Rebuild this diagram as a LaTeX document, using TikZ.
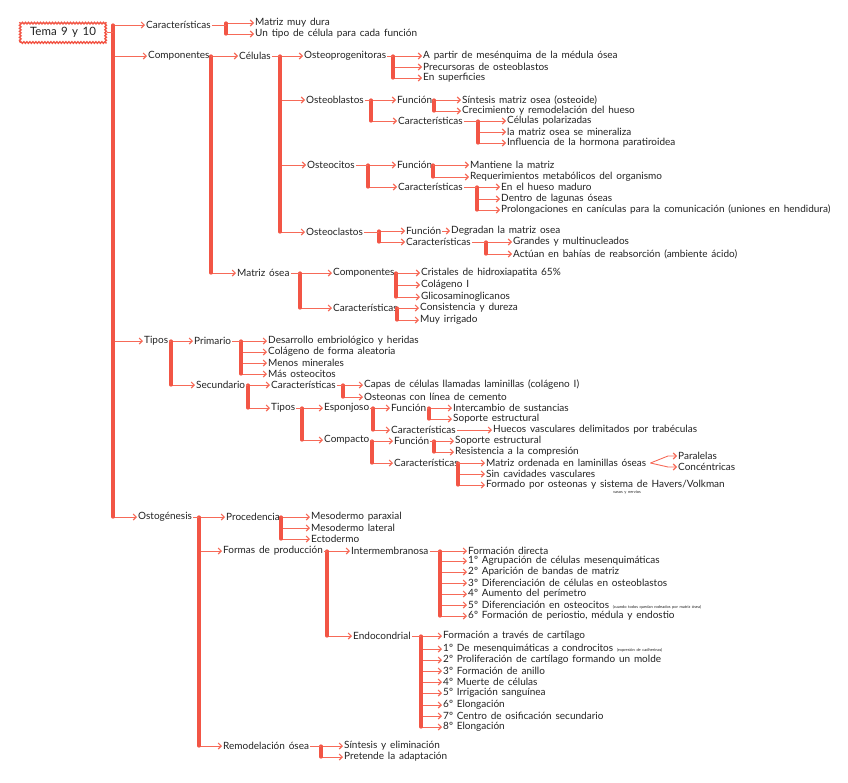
\documentclass[tikz,border=0pt]{standalone}
\usepackage{fontspec}
\setmainfont{Lato}[WordSpace=1.5]
\usetikzlibrary{arrows.meta,decorations.pathmorphing}
\definecolor{mred}{HTML}{F25545}
\definecolor{mredl}{HTML}{F66A58}
\definecolor{ink}{HTML}{222222}
\tikzset{
 t/.style={anchor=west, inner sep=1pt, text=ink, font=\fontsize{10}{12}\selectfont},
 tiny/.style={inner sep=0pt, text=ink, font=\fontsize{4}{5}\selectfont},
 arr/.style={draw=mredl, line width=0.9pt, -{Straight Barb[length=3pt,width=6pt,line width=1.1pt]}},
 bar/.style={draw=mred, line width=3.2pt, line cap=round},
 stub/.style={draw=mredl, line width=0.9pt},
 rootbox/.style={draw=mred, line width=1.4pt, minimum width=86pt, minimum height=21pt,
   decorate, decoration={snake,amplitude=0.8pt,segment length=3pt},
   text=ink, font=\fontsize{11.5}{13}\selectfont}
}
\newcommand\fan[3]{%
 \coordinate (bx) at (#2,0);
 \foreach \c [count=\i] in {#3}{%
   \ifnum\i=1 \xdef\fanfirst{\c}\fi
   \xdef\fanlast{\c}%
   \draw[arr] (bx |- \c.west) -- (\c.west);
 }%
 \draw[bar] (bx |- \fanfirst.west) -- (bx |- \fanlast.west);
 \draw[stub] (#1.east) -- (bx |- #1.east);
}
\newcommand\sm[1]{{\fontsize{4}{5}\selectfont #1}}
\begin{document}
\begin{tikzpicture}[x=1pt,y=-1pt]
\useasboundingbox (0,0) rectangle (848,782);
\node[rootbox] (tema) at (63,32) {Tema 9 y 10};
% level 1
\node[t] (car) at (145,25) {Características};
\node[t] (comp) at (147,56) {Componentes};
\node[t] (tipos) at (143,341) {Tipos};
\node[t] (osto) at (137,517) {Ostogénesis};
\fan{tema}{113}{car,comp,tipos,osto}
% caracteristicas
\node[t] (car1) at (254,23) {Matriz muy dura};
\node[t] (car2) at (254,34) {Un tipo de célula para cada función};
\fan{car}{226}{car1,car2}
% componentes
\node[t] (cel) at (238,56) {Células};
\node[t] (mat) at (236,273) {Matriz ósea};
\fan{comp}{211}{cel,mat}
\node[t] (op) at (303,56) {Osteoprogenitoras};
\node[t] (ob) at (305,100) {Osteoblastos};
\node[t] (oc) at (306,165) {Osteocitos};
\node[t] (ocl) at (305,232) {Osteoclastos};
\fan{cel}{280}{op,ob,oc,ocl}
\node[t] (op1) at (422,56) {A partir de mesénquima de la médula ósea};
\node[t] (op2) at (422,67) {Precursoras de osteoblastos};
\node[t] (op3) at (422,78) {En superficies};
\fan{op}{393}{op1,op2,op3}
\node[t] (obf) at (396,100) {Función};
\node[t] (obc) at (397,121) {Características};
\fan{ob}{371}{obf,obc}
\node[t] (obf1) at (461,100) {Síntesis matriz osea (osteoide)};
\node[t] (obf2) at (461,111) {Crecimiento y remodelación del hueso};
\fan{obf}{434}{obf1,obf2}
\node[t] (obc1) at (506,121) {Células polarizadas};
\node[t] (obc2) at (506,132) {la matriz osea se mineraliza};
\node[t] (obc3) at (506,143) {Influencia de la hormona paratiroidea};
\fan{obc}{478}{obc1,obc2,obc3}
\node[t] (ocf) at (396,165) {Función};
\node[t] (occ) at (397,187) {Características};
\fan{oc}{368}{ocf,occ}
\node[t] (ocf1) at (469,165) {Mantiene la matriz};
\node[t] (ocf2) at (469,177) {Requerimientos metabólicos del organismo};
\fan{ocf}{433}{ocf1,ocf2}
\node[t] (occ1) at (500,187) {En el hueso maduro};
\node[t] (occ2) at (500,199) {Dentro de lagunas óseas};
\node[t] (occ3) at (500,210) {Prolongaciones en canículas para la comunicación (uniones en hendidura)};
\fan{occ}{477}{occ1,occ2,occ3}
\node[t] (oclf) at (405,231) {Función};
\node[t] (oclc) at (405,242) {Características};
\fan{ocl}{379}{oclf,oclc}
\node[t] (oclf1) at (450,231) {Degradan la matriz osea};
\draw[arr] (oclf.east) -- (oclf1.west);
\node[t] (oclc1) at (512,242) {Grandes y multinucleados};
\node[t] (oclc2) at (512,254) {Actúan en bahías de reabsorción (ambiente ácido)};
\fan{oclc}{486}{oclc1,oclc2}
% matriz osea
\node[t] (matc) at (332,273) {Componentes};
\node[t] (matk) at (332,308) {Características};
\fan{mat}{300}{matc,matk}
\node[t] (matc1) at (420,273) {Cristales de hidroxiapatita 65\%};
\node[t] (matc2) at (420,285) {Colágeno I};
\node[t] (matc3) at (420,297) {Glicosaminoglicanos};
\fan{matc}{396}{matc1,matc2,matc3}
\node[t] (matk1) at (419,308) {Consistencia y dureza};
\node[t] (matk2) at (419,320) {Muy irrigado};
\fan{matk}{397}{matk1,matk2}
% tipos
\node[t] (pri) at (193,341) {Primario};
\node[t] (sec) at (195,385) {Secundario};
\fan{tipos}{171}{pri,sec}
\node[t] (pri1) at (267,341) {Desarrollo embriológico y heridas};
\node[t] (pri2) at (267,352) {Colágeno de forma aleatoria};
\node[t] (pri3) at (267,363) {Menos minerales};
\node[t] (pri4) at (267,374) {Más osteocitos};
\fan{pri}{241}{pri1,pri2,pri3,pri4}
\node[t] (secc) at (270,385) {Características};
\node[t] (sect) at (270,408) {Tipos};
\fan{sec}{248}{secc,sect}
\node[t] (secc1) at (363,385) {Capas de células llamadas laminillas (colágeno I)};
\node[t] (secc2) at (363,397) {Osteonas con línea de cemento};
\fan{secc}{343}{secc1,secc2}
\node[t] (esp) at (323,408) {Esponjoso};
\node[t] (com) at (323,440) {Compacto};
\fan{sect}{302}{esp,com}
\node[t] (espf) at (390,408) {Función};
\node[t] (espc) at (390,430) {Características};
\fan{esp}{373}{espf,espc}
\node[t] (espf1) at (452,408) {Intercambio de sustancias};
\node[t] (espf2) at (452,419) {Soporte estructural};
\fan{espf}{429}{espf1,espf2}
\node[t] (espc1) at (492,430) {Huecos vasculares delimitados por trabéculas};
\draw[arr] (espc.east) -- (espc1.west);
\node[t] (comf) at (393,441) {Función};
\node[t] (comc) at (393,463) {Características};
\fan{com}{372}{comf,comc}
\node[t] (comf1) at (454,441) {Soporte estructural};
\node[t] (comf2) at (454,452) {Resistencia a la compresión};
\fan{comf}{434}{comf1,comf2}
\node[t] (comc1) at (485,463) {Matriz ordenada en laminillas óseas};
\node[t] (comc2) at (485,474) {Sin cavidades vasculares};
\node[t] (comc3) at (485,485) {Formado por osteonas y sistema de Havers/Volkman};
\fan{comc}{458}{comc1,comc2,comc3}
\node[tiny] (vn) at (627,492) {vasos y nervios};
\node[t] (par) at (677,456) {Paralelas};
\node[t] (con) at (677,467) {Concéntricas};
\coordinate (fk) at ([xshift=3pt]comc1.east);
\draw[arr] (fk) -- ([xshift=-9pt]par.west) -- (par.west);
\draw[arr] (fk) -- ([xshift=-9pt]con.west) -- (con.west);
% ostogenesis
\node[t] (proc) at (225,517) {Procedencia};
\node[t] (form) at (222,551) {Formas de producción};
\node[t] (rem) at (222,746) {Remodelación ósea};
\fan{osto}{199}{proc,form,rem}
\node[t] (proc1) at (310,517) {Mesodermo paraxial};
\node[t] (proc2) at (310,528) {Mesodermo lateral};
\node[t] (proc3) at (310,539) {Ectodermo};
\fan{proc}{281}{proc1,proc2,proc3}
\node[t] (int) at (350,551) {Intermembranosa};
\node[t] (endo) at (352,636) {Endocondrial};
\fan{form}{327}{int,endo}
\node[t] (int1) at (467,551) {Formación directa};
\node[t] (int2) at (467,561) {1º Agrupación de células mesenquimáticas};
\node[t] (int3) at (467,572) {2º Aparición de bandas de matriz};
\node[t] (int4) at (467,583) {3º Diferenciación de células en osteoblastos};
\node[t] (int5) at (467,594) {4º Aumento del perímetro};
\node[t] (int6) at (467,605) {5º Diferenciación en osteocitos \sm{(cuando todos quedan rodeados por matriz ósea)}};
\node[t] (int7) at (467,616) {6º Formación de periostio, médula y endostio};
\fan{int}{440}{int1,int2,int3,int4,int5,int6,int7}
\node[t] (endo1) at (442,636) {Formación a través de cartílago};
\node[t] (endo2) at (442,649) {1º De mesenquimáticas a condrocitos \sm{(expresión de cadherinas)}};
\node[t] (endo3) at (442,660) {2º Proliferación de cartílago formando un molde};
\node[t] (endo4) at (442,671) {3º Formación de anillo};
\node[t] (endo5) at (442,682) {4º Muerte de células};
\node[t] (endo6) at (442,693) {5º Irrigación sanguínea};
\node[t] (endo7) at (442,705) {6º Elongación};
\node[t] (endo8) at (442,716) {7º Centro de osificación secundario};
\node[t] (endo9) at (442,727) {8º Elongación};
\fan{endo}{421}{endo1,endo2,endo3,endo4,endo5,endo6,endo7,endo8,endo9}
\node[t] (rem1) at (343,746) {Síntesis y eliminación};
\node[t] (rem2) at (343,757) {Pretende la adaptación};
\fan{rem}{321}{rem1,rem2}
\end{tikzpicture}
\end{document}
